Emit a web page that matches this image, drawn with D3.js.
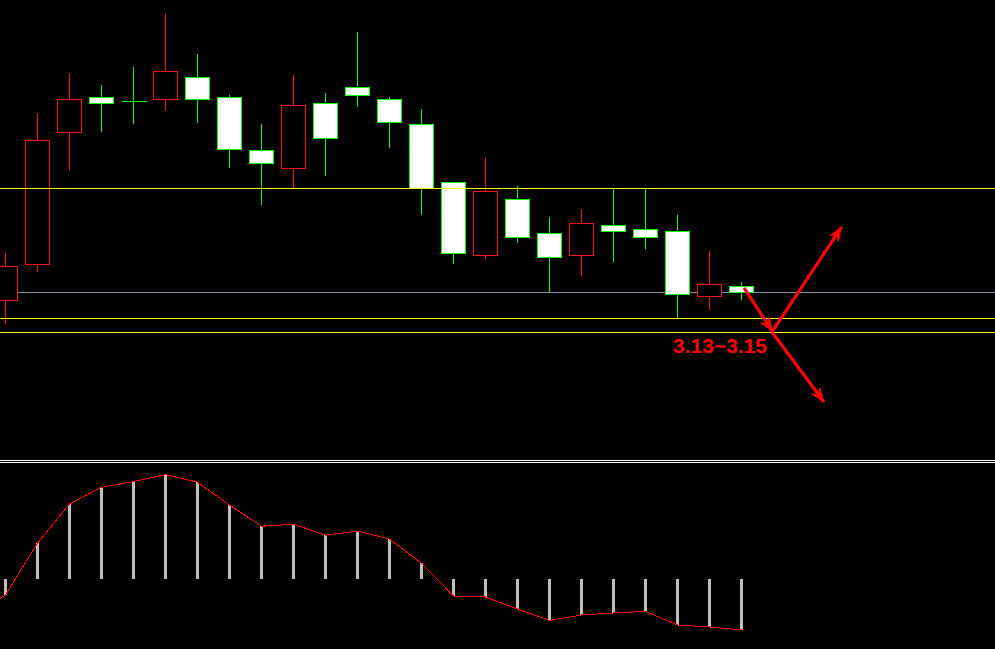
<!DOCTYPE html>
<html>
<head>
<meta charset="utf-8">
<script src="https://cdn.jsdelivr.net/npm/d3@7"></script>
<style>
html,body{margin:0;padding:0;background:#000;overflow:hidden;}
svg{display:block;}
</style>
</head>
<body>
<svg id="chart" width="995" height="649"></svg>
<script>
// ---- data ----
const candleIndex = d3.range(24);
const opens  = [3.1753,3.2267,3.4153,3.4653,3.4596,3.4624,3.4939,3.4653,3.3896,3.3639,3.4567,3.4796,3.4624,3.4267,3.3439,3.2396,3.3196,3.2710,3.2396,3.2824,3.2767,3.2739,3.1810,3.1953];
const highs  = [3.2424,3.4424,3.5000,3.4829,3.5086,3.5843,3.5271,3.4686,3.4271,3.4971,3.4714,3.5586,3.4657,3.4486,3.3439,3.3786,3.3386,3.2943,3.3057,3.3353,3.3357,3.2971,3.2457,3.2014];
const lows   = [3.1433,3.2176,3.3633,3.4176,3.4290,3.4471,3.4304,3.3661,3.3133,3.3353,3.3547,3.4533,3.3947,3.2990,3.2290,3.2361,3.2590,3.1890,3.2119,3.2319,3.2504,3.1500,3.1633,3.1776];
const closes = [3.2239,3.4039,3.4624,3.4567,3.4596,3.5024,3.4624,3.3919,3.3719,3.4539,3.4067,3.4681,3.4296,3.3353,3.2424,3.3310,3.2653,3.2367,3.2853,3.2739,3.2653,3.1839,3.1981,3.1867];

// MACD histogram values (index -1 is the bar just off the left edge)
const macdIndex = d3.range(-1, 24);
const macdValues = [-0.0175,-0.0080,0.0179,0.0375,0.0459,0.0487,0.0522,0.0484,0.0370,0.0264,0.0274,0.0219,0.0239,0.0199,0.0079,-0.0085,-0.0090,-0.0150,-0.0207,-0.0180,-0.0170,-0.0162,-0.0230,-0.0240,-0.0254];

// horizontal levels
const supportLevels = [3.3353, 3.15, 3.13];
const lastPrice = 3.1867;

// annotation (index, price)
const arrowSegments = [
  [[23.08, 3.1929],[23.97, 3.1307]],
  [[23.95, 3.1300],[26.13, 3.2800]],
  [[23.95, 3.1300],[25.58, 3.0300]]
];
const labelText = "3.13~3.15";
const labelPos = [20.86, 3.0996];

// ---- scales ----
const W = 995, H = 649;
const x = d3.scaleLinear().domain([0, 23]).range([5.5, 741.5]);
const y = d3.scaleLinear().domain([3.13, 3.15]).range([332, 318]);
const my = d3.scaleLinear().domain([0, 0.05]).range([579, 479]);

const svg = d3.select("#chart");
svg.append("rect").attr("width", W).attr("height", H).attr("fill", "#000");

const crisp = v => Math.round(v) + 0.5;

// last price line (under candles)
svg.append("line")
  .attr("x1", 0).attr("x2", W)
  .attr("y1", crisp(y(lastPrice))).attr("y2", crisp(y(lastPrice)))
  .attr("stroke", "#7f8fa0").attr("stroke-width", 1).attr("shape-rendering", "crispEdges");

const candles = candleIndex.map(i => ({i, o: opens[i], h: highs[i], l: lows[i], c: closes[i]}));
const RED = "#ff1414", GREEN = "#00ff00";

const g = svg.append("g").attr("shape-rendering", "crispEdges");
candles.forEach(d => {
  const up = d.c > d.o;
  const col = up ? RED : GREEN;
  const cx = x(d.i);
  g.append("line")
    .attr("x1", cx).attr("x2", cx)
    .attr("y1", Math.round(y(d.h))).attr("y2", Math.round(y(d.l)) + 1)
    .attr("stroke", col).attr("stroke-width", 1);
  const yt = Math.round(y(Math.max(d.o, d.c)));
  const yb = Math.round(y(Math.min(d.o, d.c)));
  if (yb - yt < 1) {
    g.append("line")
      .attr("x1", cx - 12).attr("x2", cx + 13)
      .attr("y1", yt + 0.5).attr("y2", yt + 0.5)
      .attr("stroke", col).attr("stroke-width", 1);
  } else {
    g.append("rect")
      .attr("x", cx - 12).attr("width", 24)
      .attr("y", yt + 0.5).attr("height", yb - yt)
      .attr("fill", up ? "#000" : "#fff")
      .attr("stroke", col).attr("stroke-width", 1);
  }
});

// yellow levels (above candles)
svg.append("g").attr("shape-rendering", "crispEdges")
  .selectAll("line").data(supportLevels).join("line")
  .attr("x1", 0).attr("x2", W)
  .attr("y1", d => crisp(y(d))).attr("y2", d => crisp(y(d)))
  .attr("stroke", "#ffff00").attr("stroke-width", 1);

// arrows
const defs = svg.append("defs");
defs.append("marker")
  .attr("id", "ah").attr("viewBox", "0 0 16 12")
  .attr("refX", 15).attr("refY", 6)
  .attr("markerWidth", 16).attr("markerHeight", 12)
  .attr("markerUnits", "userSpaceOnUse")
  .attr("orient", "auto")
  .append("path").attr("d", "M0,0 L16,6 L0,12 L5,6 Z").attr("fill", "#ff0000");

svg.append("g").selectAll("line").data(arrowSegments).join("line")
  .attr("x1", d => x(d[0][0])).attr("y1", d => y(d[0][1]))
  .attr("x2", d => x(d[1][0])).attr("y2", d => y(d[1][1]))
  .attr("stroke", "#ff0000").attr("stroke-width", 3.2)
  .attr("marker-end", "url(#ah)");

svg.append("text")
  .attr("x", x(labelPos[0])).attr("y", y(labelPos[1]))
  .attr("fill", "#ff0000")
  .attr("font-family", "'Liberation Sans', Arial, sans-serif")
  .attr("font-weight", "bold").attr("font-size", 21)
  .text(labelText);

// panel divider
svg.append("g").attr("shape-rendering", "crispEdges")
  .selectAll("line").data([460.5, 462.5]).join("line")
  .attr("x1", 0).attr("x2", W).attr("y1", d => d).attr("y2", d => d)
  .attr("stroke", "#fff").attr("stroke-width", 1);

// MACD histogram
const macd = macdIndex.map((idx, k) => ({i: idx, v: macdValues[k]}));
svg.append("g").attr("shape-rendering", "crispEdges")
  .selectAll("rect").data(macd.filter(d => d.i >= 0)).join("rect")
  .attr("x", d => x(d.i) - 1.5).attr("width", 3)
  .attr("y", d => d.v >= 0 ? Math.round(my(d.v)) : my(0))
  .attr("height", d => Math.abs(Math.round(my(d.v)) - my(0)))
  .attr("fill", "#c0c0c0");

svg.append("path")
  .datum(macd)
  .attr("d", d3.line().x(d => x(d.i)).y(d => my(d.v)))
  .attr("fill", "none").attr("stroke", "#ff0000").attr("stroke-width", 1)
  .attr("shape-rendering", "crispEdges");
</script>
</body>
</html>
